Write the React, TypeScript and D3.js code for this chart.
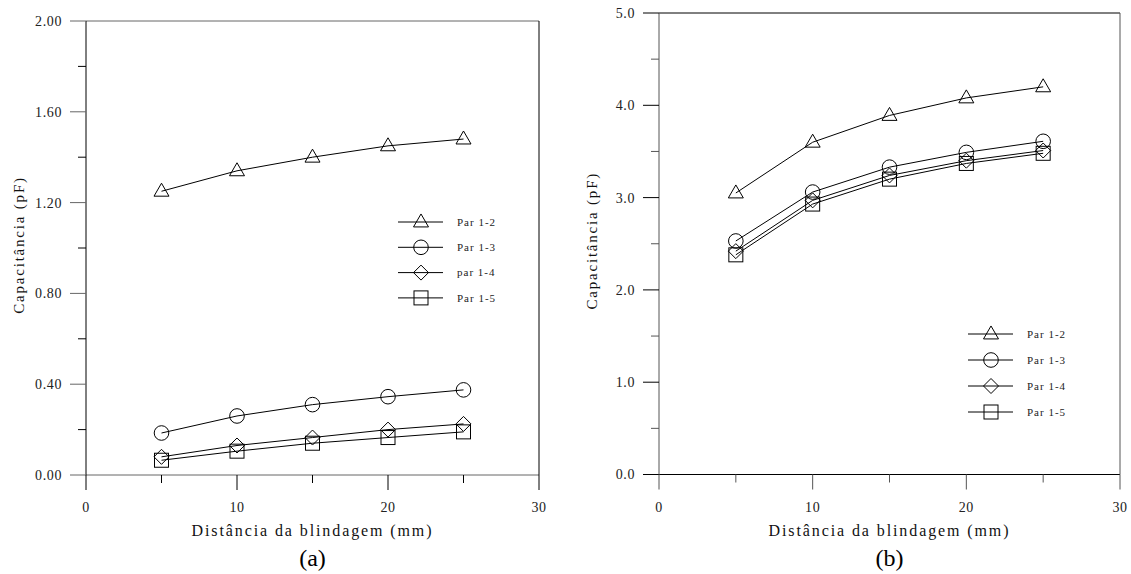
import React from "react";
import * as d3 from "d3";

const distances = [5, 10, 15, 20, 25];
const seriesNamesA = ["Par 1-2", "Par 1-3", "par 1-4", "Par 1-5"];
const seriesNamesB = ["Par 1-2", "Par 1-3", "Par 1-4", "Par 1-5"];
const markerKinds = ["triangle", "circle", "diamond", "square"];

const a12 = [1.25, 1.34, 1.40, 1.45, 1.48];
const a13 = [0.185, 0.26, 0.31, 0.345, 0.375];
const a14 = [0.08, 0.13, 0.165, 0.20, 0.225];
const a15 = [0.065, 0.105, 0.14, 0.165, 0.19];

const b12 = [3.05, 3.60, 3.89, 4.08, 4.20];
const b13 = [2.53, 3.06, 3.33, 3.49, 3.61];
const b14 = [2.42, 2.97, 3.24, 3.40, 3.51];
const b15 = [2.38, 2.93, 3.20, 3.37, 3.48];

const xMajor = [0, 10, 20, 30];
const xMinor = [5, 15, 25];
const yMajorA = [0, 0.4, 0.8, 1.2, 1.6, 2.0];
const yMinorA = [0.2, 0.6, 1.0, 1.4, 1.8];
const yMajorB = [0, 1, 2, 3, 4, 5];
const yMinorB = [0.5, 1.5, 2.5, 3.5, 4.5];

const serif = "'Liberation Serif', 'Times New Roman', Times, serif";

function Marker({ kind, x, y }: { kind: string; x: number; y: number }) {
  const s = 7.5;
  const common = { fill: "none", stroke: "#000", strokeWidth: 1 };
  if (kind === "triangle") {
    const h = s * 1.73;
    return (
      <path
        d={`M${x},${y - h * 0.62} L${x + s},${y + h * 0.38} L${x - s},${y + h * 0.38} Z`}
        {...common}
      />
    );
  }
  if (kind === "circle") return <circle cx={x} cy={y} r={7.3} {...common} />;
  if (kind === "diamond")
    return (
      <path d={`M${x},${y - s} L${x + s},${y} L${x},${y + s} L${x - s},${y} Z`} {...common} />
    );
  return <rect x={x - 7} y={y - 7} width={14} height={14} {...common} />;
}

type PanelProps = {
  left: number;
  right: number;
  top: number;
  bottom: number;
  yMax: number;
  yMajor: number[];
  yMinor: number[];
  yFmt: (v: number) => string;
  series: number[][];
  names: string[];
  legendX: number;
  legendY: number;
  legendStep: number;
  caption: string;
  hColor: string;
  vColor: string;
};

function Panel(p: PanelProps) {
  const x = d3.scaleLinear().domain([0, 30]).range([p.left, p.right]);
  const y = d3.scaleLinear().domain([0, p.yMax]).range([p.bottom, p.top]);
  const line = d3
    .line<number>()
    .x((_, i) => x(distances[i]))
    .y((d) => y(d));
  const cx = (p.left + p.right) / 2;
  const cy = (p.top + p.bottom) / 2;
  return (
    <g>
      <line x1={p.left} x2={p.right} y1={p.top} y2={p.top} stroke={p.hColor} />
      <line x1={p.left} x2={p.right} y1={p.bottom} y2={p.bottom} stroke={p.hColor} />
      <line x1={p.left} x2={p.left} y1={p.top} y2={p.bottom} stroke={p.vColor} />
      <line x1={p.right} x2={p.right} y1={p.top} y2={p.bottom} stroke={p.vColor} />
      {p.yMajor.map((v) => (
        <g key={"ym" + v}>
          <line x1={p.left - 16} x2={p.left} y1={y(v)} y2={y(v)} stroke={p.hColor} />
          <text
            x={p.left - 24}
            y={y(v)}
            dy="0.35em"
            textAnchor="end"
            fontFamily={serif}
            fontSize={14}
            letterSpacing={0.6}
            fill="#222"
          >
            {p.yFmt(v)}
          </text>
        </g>
      ))}
      {p.yMinor.map((v) => (
        <line key={"yn" + v} x1={p.left - 8} x2={p.left} y1={y(v)} y2={y(v)} stroke={p.vColor} />
      ))}
      {xMajor.map((v) => (
        <g key={"xm" + v}>
          <line x1={x(v)} x2={x(v)} y1={p.bottom} y2={p.bottom + 15} stroke={p.vColor} />
          <text
            x={x(v)}
            y={p.bottom + 37}
            textAnchor="middle"
            fontFamily={serif}
            fontSize={14}
            letterSpacing={0.6}
            fill="#222"
          >
            {v}
          </text>
        </g>
      ))}
      {xMinor.map((v) => (
        <line key={"xn" + v} x1={x(v)} x2={x(v)} y1={p.bottom} y2={p.bottom + 8} stroke={p.vColor} />
      ))}
      {p.series.map((s, si) => (
        <g key={"s" + si}>
          <path d={line(s) || ""} fill="none" stroke="#000" strokeWidth={1} />
          {s.map((v, i) => (
            <Marker key={i} kind={markerKinds[si]} x={x(distances[i])} y={y(v)} />
          ))}
        </g>
      ))}
      {p.names.map((n, i) => {
        const ly = p.legendY + i * p.legendStep;
        return (
          <g key={"l" + i}>
            <line x1={p.legendX} x2={p.legendX + 45} y1={ly} y2={ly} stroke="#000" />
            <Marker kind={markerKinds[i]} x={p.legendX + 23} y={ly} />
            <text
              x={p.legendX + 59}
              y={ly}
              dy="0.35em"
              fontFamily={serif}
              fontSize={11}
              letterSpacing={1}
              fill="#222"
            >
              {n}
            </text>
          </g>
        );
      })}
      <text
        x={cx}
        y={536}
        textAnchor="middle"
        fontFamily={serif}
        fontSize={16}
        letterSpacing={1.9}
        fill="#111"
      >
        Distância da blindagem (mm)
      </text>
      <text
        transform={`translate(${p.left - 62},${cy - 3}) rotate(-90)`}
        textAnchor="middle"
        fontFamily={serif}
        fontSize={15}
        letterSpacing={1.8}
        fill="#111"
      >
        Capacitância (pF)
      </text>
      <text x={cx} y={566} textAnchor="middle" fontFamily={serif} fontSize={24} fill="#000">
        {p.caption}
      </text>
    </g>
  );
}

export default function App() {
  return (
    <svg
      width={1131}
      height={574}
      style={{ position: "absolute", left: 0, top: 0, background: "#fff" }}
    >
      <rect width={1131} height={574} fill="#fff" />
      <Panel
        left={86}
        right={539}
        top={21}
        bottom={475}
        yMax={2}
        yMajor={yMajorA}
        yMinor={yMinorA}
        yFmt={(v) => v.toFixed(2)}
        series={[a12, a13, a14, a15]}
        names={seriesNamesA}
        legendX={398}
        legendY={222}
        legendStep={25.3}
        caption="(a)"
        hColor="#666"
        vColor="#000"
      />
      <Panel
        left={659}
        right={1120}
        top={13}
        bottom={474.5}
        yMax={5}
        yMajor={yMajorB}
        yMinor={yMinorB}
        yFmt={(v) => v.toFixed(1)}
        series={[b12, b13, b14, b15]}
        names={seriesNamesB}
        legendX={968}
        legendY={334}
        legendStep={26}
        caption="(b)"
        hColor="#000"
        vColor="#555"
      />
    </svg>
  );
}
